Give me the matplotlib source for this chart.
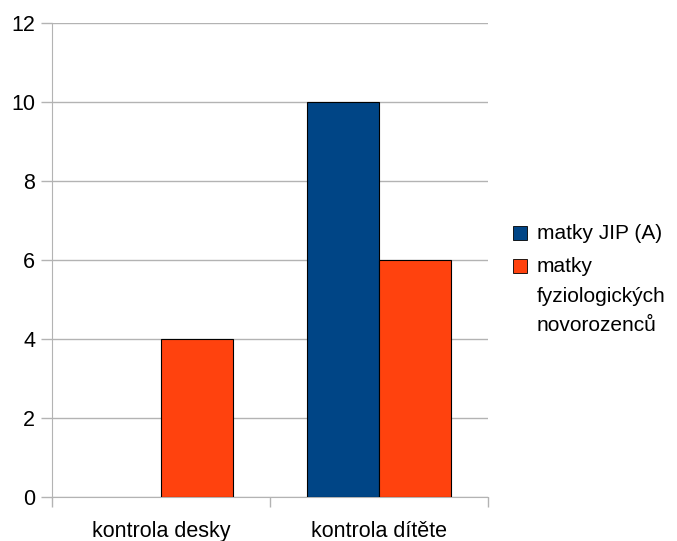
import matplotlib.pyplot as plt
from matplotlib.patches import Rectangle
import numpy as np

plt.rcParams['font.family'] = ['Liberation Sans', 'DejaVu Sans']

categories = ["kontrola desky", "kontrola dítěte"]
series_names = ["matky JIP (A)", "matky\nfyziologických\nnovorozenců"]
jip = [0, 10]
fyz = [4, 6]
colors = ["#004586", "#ff420e"]

W, H = 677, 541
fig = plt.figure(figsize=(W / 100, H / 100), dpi=100)
ax = fig.add_axes([0.0768, 0.0813, 0.644, 0.876])

x = np.arange(len(categories))
w = 0.33
for offset, vals, c in [(-w / 2, jip, colors[0]), (w / 2, fyz, colors[1])]:
    lw = [0.8 if v > 0 else 0 for v in vals]
    ax.bar(x + offset, vals, w, color=c, edgecolor="black", linewidth=lw, zorder=3)

ax.set_xlim(-0.5, 1.5)
ax.set_ylim(0, 12)
ax.set_yticks(range(0, 13, 2))
ax.yaxis.grid(True, color="#b3b3b3", linewidth=1)
ax.set_axisbelow(True)

# category labels at centres, tick marks on the boundaries
ax.set_xticks(x)
ax.set_xticklabels(categories)
ax.set_xticks([-0.5, 0.5, 1.5], minor=True)
ax.tick_params(axis="x", which="major", length=0, labelsize=15.5, pad=17)
ax.tick_params(axis="x", which="minor", length=7, color="#b3b3b3", width=1)
ax.tick_params(axis="y", length=8, color="#b3b3b3", width=1, labelsize=15.5, pad=4)

for s in ["top", "right"]:
    ax.spines[s].set_visible(False)
for s in ["left", "bottom"]:
    ax.spines[s].set_color("#b3b3b3")

# legend drawn by hand so the swatch sits on the first text line
for name, c, top in zip(series_names, colors, [226, 259]):
    fig.patches.append(Rectangle((513 / W, 1 - (top + 14) / H), 14 / W, 14 / H,
                                 transform=fig.transFigure, facecolor=c,
                                 edgecolor="black", linewidth=0.6))
    fig.text(537 / W, 1 - (top - 2) / H, name, fontsize=15, va="top", ha="left",
             linespacing=1.7)

fig.savefig("out.png", dpi=100)
